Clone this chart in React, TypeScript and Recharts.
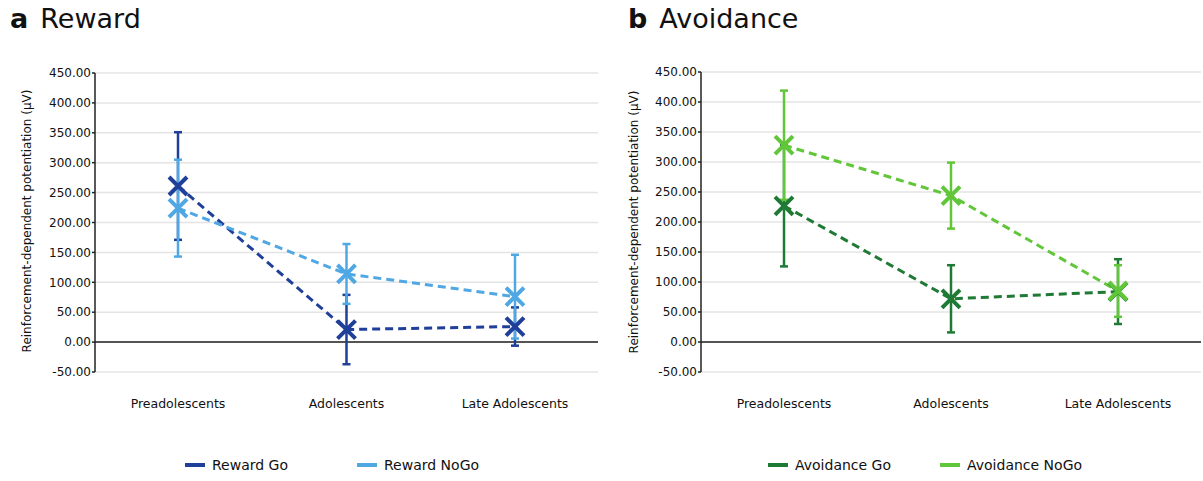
import React from 'react'
import { LineChart, Line, XAxis, YAxis, CartesianGrid, ReferenceLine, ErrorBar } from 'recharts'

const groups = ['Preadolescents', 'Adolescents', 'Late Adolescents']
const yTicks = [-50, 0, 50, 100, 150, 200, 250, 300, 350, 400, 450]

const rewardGo = [261, 21, 26]
const rewardGoErr = [90, 58, 32]
const rewardNoGo = [224, 114, 76]
const rewardNoGoErr = [81, 50, 70]

const avoidGo = [227, 72, 84]
const avoidGoErr = [101, 56, 54]
const avoidNoGo = [328, 244, 85]
const avoidNoGoErr = [91, 55, 43]

const FONT = '"DejaVu Sans", Arial, sans-serif'
const Y_LABEL = 'Reinforcement-dependent potentiation (µV)'

function XMark(props: any) {
  const { cx, cy, stroke } = props
  if (cx == null || cy == null) return null
  const r = 9
  return (
    <path
      d={`M${cx - r},${cy - r}L${cx + r},${cy + r}M${cx - r},${cy + r}L${cx + r},${cy - r}`}
      stroke={stroke}
      strokeWidth={4}
      fill="none"
    />
  )
}

interface PanelProps {
  go: number[]
  goErr: number[]
  nogo: number[]
  nogoErr: number[]
  goColor: string
  nogoColor: string
  width: number
  left: number
  marginLeft: number
  top: number
}

function Panel({ go, goErr, nogo, nogoErr, goColor, nogoColor, width, left, marginLeft, top }: PanelProps) {
  const data = groups.map((g, i) => ({
    name: g,
    go: go[i],
    goErr: goErr[i],
    nogo: nogo[i],
    nogoErr: nogoErr[i],
  }))

  return (
    <div style={{ position: 'absolute', left, top: 0 }}>
      <LineChart
        width={width}
        height={430}
        data={data}
        margin={{ top, right: 2, left: marginLeft, bottom: 10 }}
      >
        <CartesianGrid vertical={false} stroke="#e4e4e4" strokeWidth={1.5} />
        <XAxis
          dataKey="name"
          axisLine={false}
          tickLine={false}
          height={48}
          tickMargin={21}
          padding={{ left: 83, right: 83 }}
          tick={{ fontSize: 12.5, fill: '#111', fontFamily: FONT }}
        />
        <YAxis
          domain={[-50, 450]}
          ticks={yTicks}
          interval={0}
          width={64}
          tickFormatter={(v: number) => v.toFixed(2)}
          axisLine={{ stroke: '#222', strokeWidth: 1.5 }}
          tickLine={{ stroke: '#222', strokeWidth: 1.5 }}
          tickSize={3}
          tickMargin={1}
          tick={{ fontSize: 12, fill: '#111', fontFamily: FONT }}
        />
        <ReferenceLine y={0} stroke="#222" strokeWidth={1.5} />
        <Line
          dataKey="go"
          stroke={goColor}
          strokeWidth={3}
          strokeDasharray="8 5"
          isAnimationActive={false}
          dot={(p: any) => <XMark key={`go-${p.index}`} {...p} stroke={goColor} />}
          activeDot={false}
        >
          <ErrorBar dataKey="goErr" width={4} strokeWidth={2.5} stroke={goColor} direction="y" isAnimationActive={false} />
        </Line>
        <Line
          dataKey="nogo"
          stroke={nogoColor}
          strokeWidth={3}
          strokeDasharray="8 5"
          isAnimationActive={false}
          dot={(p: any) => <XMark key={`nogo-${p.index}`} {...p} stroke={nogoColor} />}
          activeDot={false}
        >
          <ErrorBar dataKey="nogoErr" width={4} strokeWidth={2.5} stroke={nogoColor} direction="y" isAnimationActive={false} />
        </Line>
      </LineChart>
    </div>
  )
}

function Title({ letter, text, left }: { letter: string; text: string; left: number }) {
  return (
    <div style={{ position: 'absolute', left, top: 3, fontFamily: FONT, fontSize: 27, color: '#111', whiteSpace: 'nowrap' }}>
      <span style={{ fontWeight: 'bold' }}>{letter}</span>
      <span style={{ marginLeft: 12 }}>{text}</span>
    </div>
  )
}

function YLabel({ x, y }: { x: number; y: number }) {
  return (
    <div
      style={{
        position: 'absolute',
        left: x,
        top: y,
        transform: 'translate(-50%, -50%) rotate(-90deg)',
        fontFamily: FONT,
        fontSize: 12,
        color: '#111',
        whiteSpace: 'nowrap',
      }}
    >
      {Y_LABEL}
    </div>
  )
}

function LegendItem({ left, color, label }: { left: number; color: string; label: string }) {
  return (
    <div style={{ position: 'absolute', left, top: 457, display: 'flex', alignItems: 'center', fontFamily: FONT, fontSize: 14, color: '#111', whiteSpace: 'nowrap' }}>
      <span style={{ display: 'inline-block', width: 20, height: 4, background: color, marginRight: 7 }} />
      {label}
    </div>
  )
}

export default function App() {
  return (
    <div style={{ position: 'fixed', left: 0, top: 0, width: 1203, height: 481, background: '#fff', overflow: 'hidden' }}>
      <Title letter="a" text="Reward" left={10} />
      <Title letter="b" text="Avoidance" left={628} />
      <Panel
        go={rewardGo}
        goErr={rewardGoErr}
        nogo={rewardNoGo}
        nogoErr={rewardNoGoErr}
        goColor="#1f3f99"
        nogoColor="#4fa8e4"
        width={600}
        left={0}
        marginLeft={31}
        top={73}
      />
      <Panel
        go={avoidGo}
        goErr={avoidGoErr}
        nogo={avoidNoGo}
        nogoErr={avoidNoGoErr}
        goColor="#1e7a34"
        nogoColor="#62c63a"
        width={603}
        left={600}
        marginLeft={37}
        top={72}
      />
      <YLabel x={27} y={221} />
      <YLabel x={634} y={222} />
      <LegendItem left={185} color="#1f3f99" label="Reward Go" />
      <LegendItem left={357} color="#4fa8e4" label="Reward NoGo" />
      <LegendItem left={768} color="#1e7a34" label="Avoidance Go" />
      <LegendItem left={940} color="#62c63a" label="Avoidance NoGo" />
    </div>
  )
}
